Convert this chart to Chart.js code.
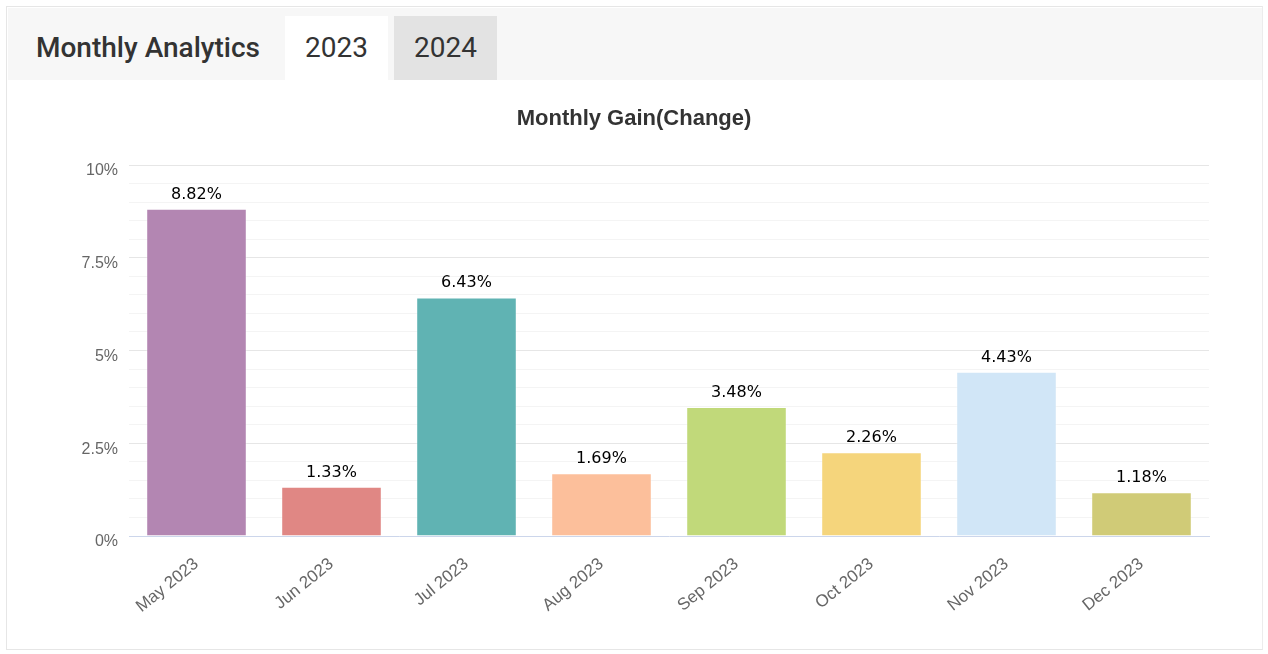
<!DOCTYPE html>
<html>
<head>
<meta charset="utf-8">
<script src="https://cdn.jsdelivr.net/npm/chart.js@4/dist/chart.umd.min.js"></script>
<style>
html,body{margin:0;padding:0;background:#fff;width:1268px;height:654px;overflow:hidden;}
#panel{position:absolute;left:6px;top:6px;width:1255px;height:642px;border:1px solid #e6e6e6;border-right:1px solid #ececec;}
#header{position:absolute;left:1px;top:1px;right:0;height:72px;background:#f7f7f7;}
#title{position:absolute;left:28px;top:23px;font-family:Roboto,sans-serif;font-weight:500;font-size:28px;color:#333;line-height:34px;}
.tab{position:absolute;top:8px;height:64px;font-family:Roboto,sans-serif;font-size:28px;color:#333;text-align:center;line-height:64px;}
#t1{left:277px;width:103px;background:#fff;}
#t2{left:386px;width:103px;background:#e3e3e3;}
#wrap{position:absolute;left:7px;top:80px;width:1254px;height:568px;}
</style>
</head>
<body>
<div id="panel">
  <div id="header">
    <div id="title">Monthly Analytics</div>
    <div class="tab" id="t1">2023</div>
    <div class="tab" id="t2">2024</div>
  </div>
</div>
<div id="wrap"><canvas id="c" width="1254" height="568"></canvas></div>
<script>
const categories = ["May 2023","Jun 2023","Jul 2023","Aug 2023","Sep 2023","Oct 2023","Nov 2023","Dec 2023"];
const gains = [8.82, 1.33, 6.43, 1.69, 3.48, 2.26, 4.43, 1.18];
const barColors = ["#b386b2","#e08784","#60b3b3","#fcbf9b","#c1d97a","#f5d57c","#d1e6f7","#d0cb77"];
const yTickLabels = {"0":"0%","2.5":"2.5%","5":"5%","7.5":"7.5%","10":"10%"};
const chartTitle = "Monthly Gain(Change)";

const valueLabels = {
  id:'valueLabels',
  afterDatasetsDraw(chart){
    const ctx = chart.ctx;
    const meta = chart.getDatasetMeta(0);
    ctx.save();
    ctx.font = '16px "DejaVu Sans"';
    ctx.fillStyle = '#000';
    ctx.textAlign = 'center';
    ctx.textBaseline = 'alphabetic';
    meta.data.forEach((bar,i)=>{
      ctx.fillText(gains[i].toFixed(2)+'%', bar.x, bar.y - 10);
    });
    ctx.restore();
  }
};

new Chart(document.getElementById('c'), {
  type:'bar',
  data:{
    labels:categories,
    datasets:[{
      data:gains,
      backgroundColor:barColors,
      borderColor:'rgba(255,255,255,0.35)',
      borderWidth:1,
      categoryPercentage:1,
      barPercentage:0.745
    }]
  },
  options:{
    responsive:false,
    animation:false,
    devicePixelRatio:1,
    layout:{padding:0},
    plugins:{
      legend:{display:false},
      tooltip:{enabled:false},
      title:{
        display:true,
        text:chartTitle,
        color:'#333',
        font:{family:'"Liberation Sans", Arial, sans-serif',size:22,weight:'bold',lineHeight:1.2},
        padding:{top:25.6,bottom:33}
      }
    },
    scales:{
      x:{
        grid:{display:false},
        border:{display:true,color:'#ccd6eb',width:1},
        ticks:{
          color:'#666',
          font:{family:'"Liberation Sans", Arial, sans-serif',size:17},
          minRotation:39,maxRotation:39,
          padding:10
        },
        afterFit(s){s.height=112;}
      },
      y:{
        min:0,max:10,
        border:{display:false},
        grid:{
          drawTicks:false,
          color(ctx){
            const v = ctx.tick.value;
            if (Math.abs(v) < 1e-9) return 'rgba(0,0,0,0)';
            return (Math.abs(v/2.5 - Math.round(v/2.5)) < 1e-6) ? '#e6e6e6' : '#f4f4f4';
          }
        },
        ticks:{
          stepSize:0.5,
          autoSkip:false,
          padding:11,
          labelOffset:6,
          color:'#666',
          font:{family:'"Liberation Sans", Arial, sans-serif',size:16},
          callback(v){
            const k = String(Math.round(v*10)/10);
            return yTickLabels[k] !== undefined ? yTickLabels[k] : '';
          }
        },
        afterFit(s){s.width=122;}
      },
      yRight:{
        position:'right',
        display:true,
        min:0,max:10,
        grid:{display:false,drawTicks:false},
        border:{display:false},
        ticks:{display:false},
        afterFit(s){s.width=52;}
      }
    }
  },
  plugins:[valueLabels]
});
</script>
</body>
</html>
